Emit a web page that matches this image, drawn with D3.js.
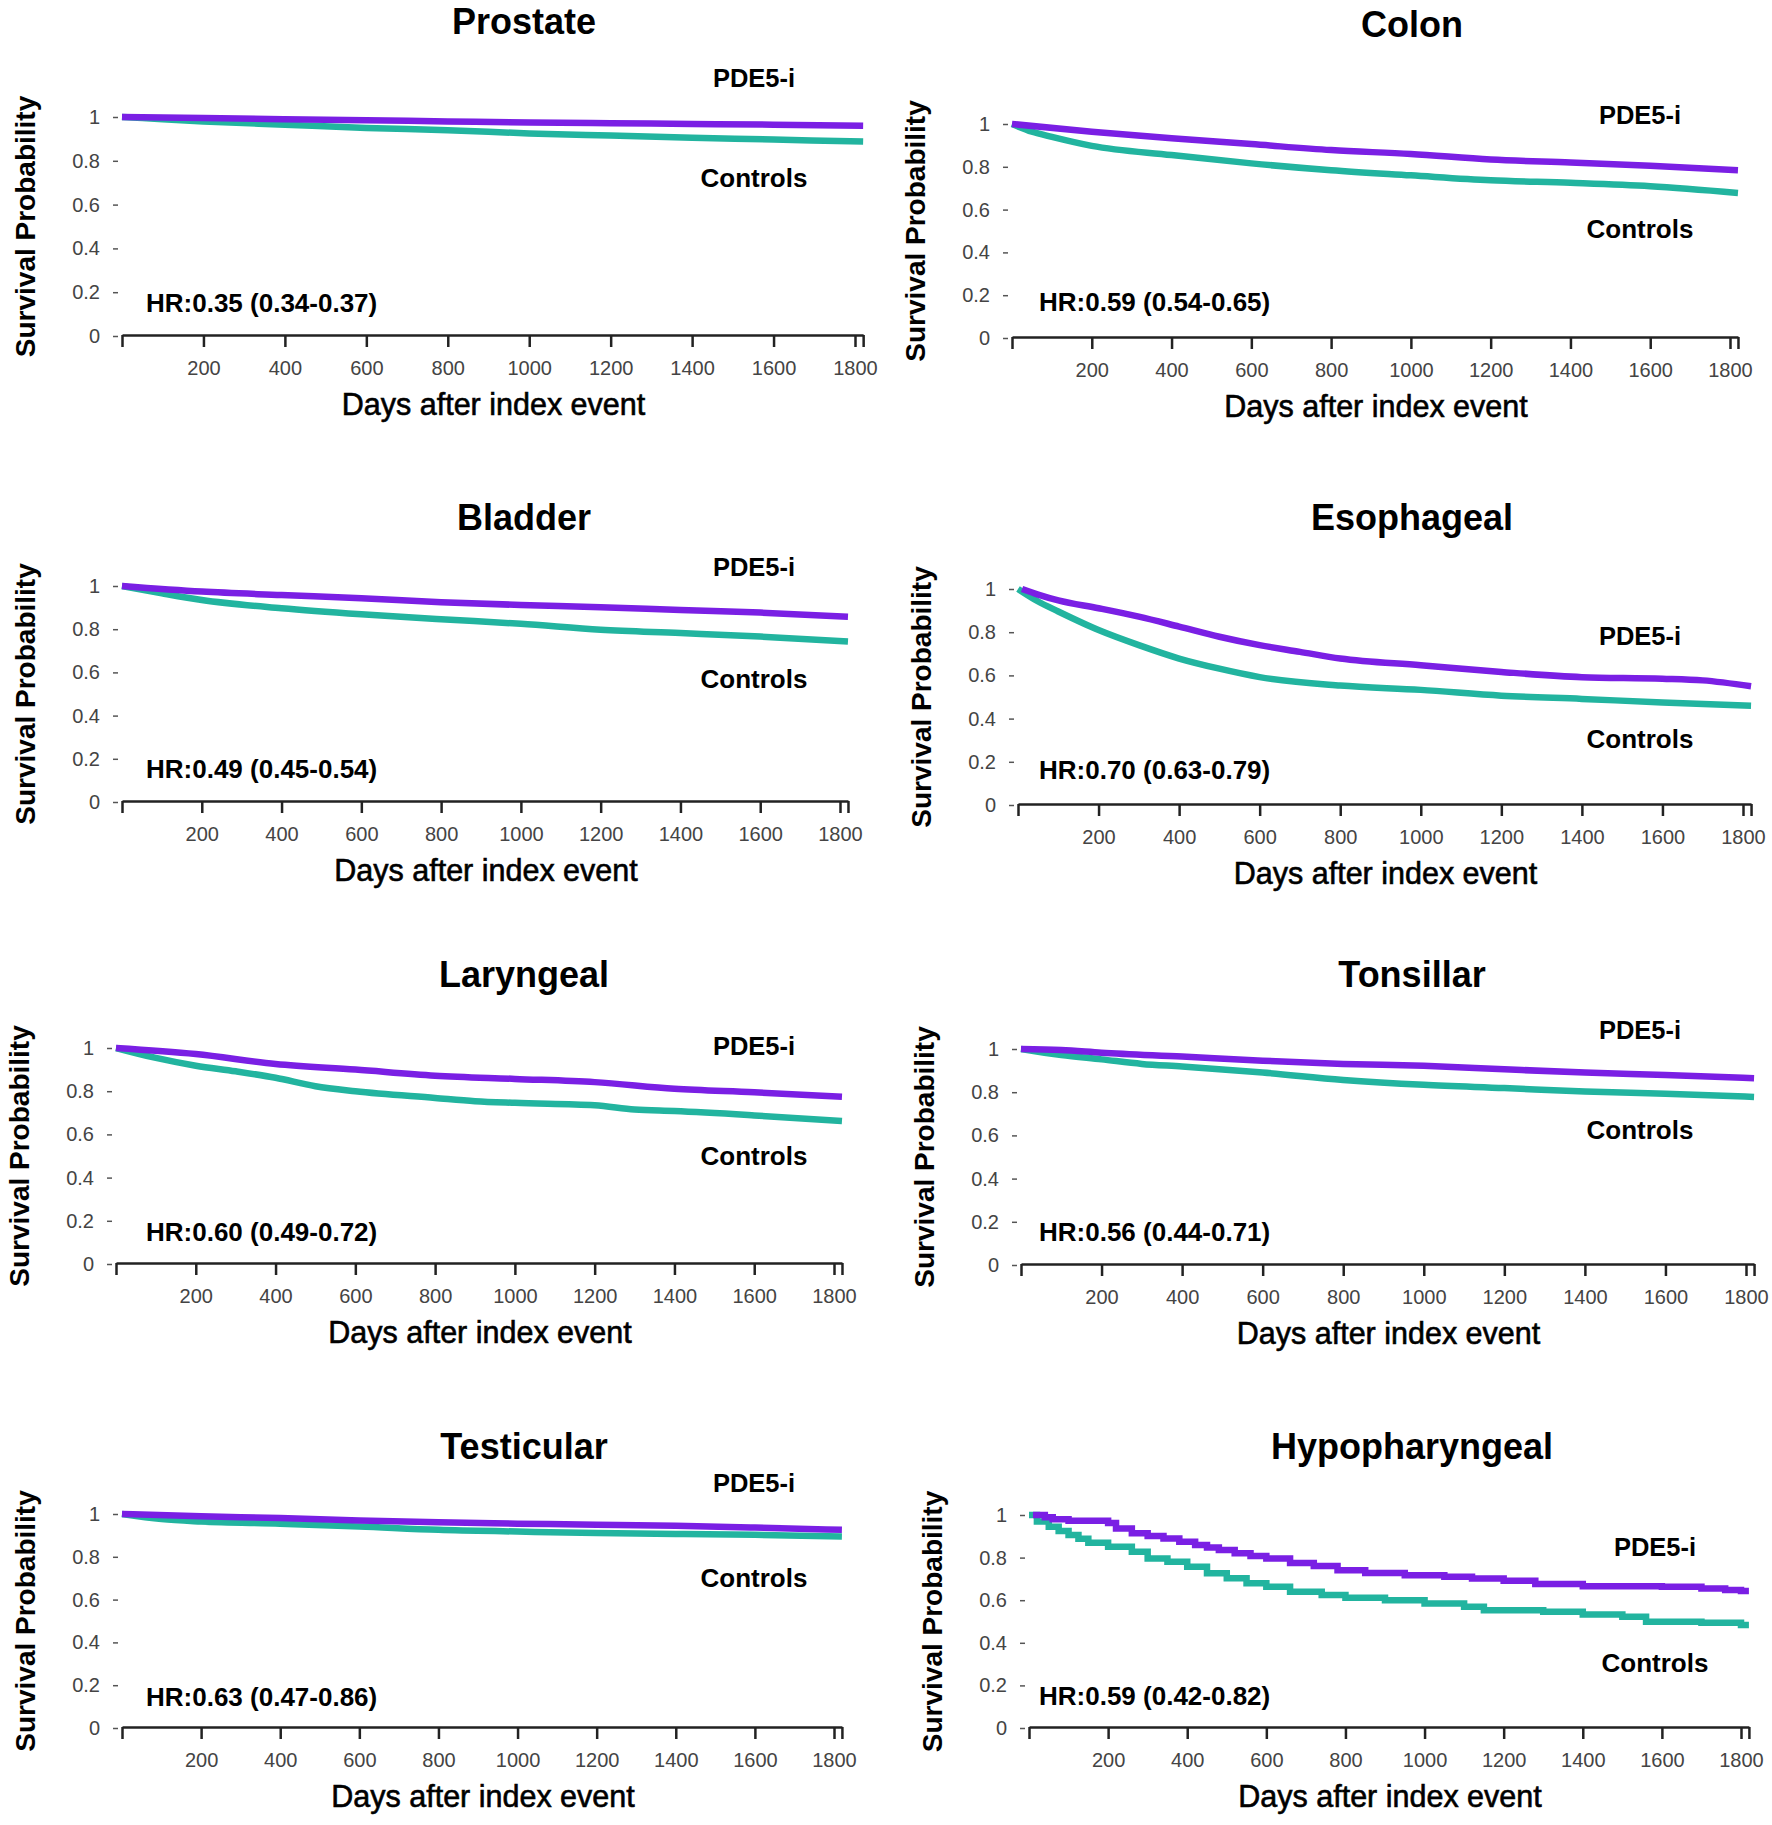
<!DOCTYPE html>
<html>
<head>
<meta charset="utf-8">
<script src="https://cdn.jsdelivr.net/npm/d3@7"></script>
<style>
  body { margin: 0; background: #fff; }
  svg { display: block; font-family: "Liberation Sans", Arial, Helvetica, sans-serif; }
</style>
</head>
<body>
<svg width="1772" height="1825"></svg>
<script>
// chart values
const cancers = ["Prostate", "Colon", "Bladder", "Esophageal", "Laryngeal", "Tonsillar", "Testicular", "Hypopharyngeal"];
const hazardRatios = ["HR:0.35 (0.34-0.37)", "HR:0.59 (0.54-0.65)", "HR:0.49 (0.45-0.54)", "HR:0.70 (0.63-0.79)",
                      "HR:0.60 (0.49-0.72)", "HR:0.56 (0.44-0.71)", "HR:0.63 (0.47-0.86)", "HR:0.59 (0.42-0.82)"];
const seriesNames = ["PDE5-i", "Controls"];
const xTicks = [200, 400, 600, 800, 1000, 1200, 1400, 1600, 1800];
const yTicks = [0, 0.2, 0.4, 0.6, 0.8, 1];

// [day, survival]
const pde5Prostate = [[0,1],[200,0.995],[400,0.99],[600,0.985],[800,0.98],[1000,0.975],[1200,0.972],[1400,0.968],[1600,0.965],[1820,0.96]];
const ctrlProstate = [[0,1],[100,0.99],[200,0.98],[400,0.965],[600,0.95],[800,0.94],[1000,0.925],[1200,0.915],[1400,0.905],[1600,0.897],[1820,0.888]];

const pde5Colon = [[0,1],[200,0.964],[400,0.933],[600,0.906],[800,0.878],[1000,0.86],[1200,0.834],[1400,0.82],[1600,0.805],[1820,0.784]];
const ctrlColon = [[0,1],[50,0.964],[100,0.94],[200,0.898],[400,0.855],[600,0.816],[800,0.784],[1000,0.76],[1200,0.737],[1400,0.725],[1600,0.709],[1820,0.678]];

const pde5Bladder = [[0,1],[200,0.974],[400,0.958],[600,0.943],[800,0.925],[1000,0.912],[1200,0.902],[1400,0.889],[1600,0.877],[1820,0.858]];
const ctrlBladder = [[0,1],[100,0.966],[200,0.935],[400,0.897],[600,0.869],[800,0.846],[1000,0.825],[1200,0.797],[1400,0.782],[1600,0.766],[1820,0.743]];

const pde5Esophageal = [[10,1],[50,0.974],[100,0.947],[200,0.911],[300,0.872],[400,0.826],[500,0.779],[600,0.74],[700,0.709],[800,0.678],[1000,0.647],[1200,0.616],[1400,0.592],[1600,0.585],[1700,0.577],[1820,0.55]];
const ctrlEsophageal = [[0,1],[50,0.942],[100,0.896],[200,0.81],[300,0.74],[400,0.678],[500,0.631],[600,0.592],[800,0.553],[1000,0.533],[1200,0.506],[1400,0.491],[1600,0.475],[1820,0.46]];

const pde5Laryngeal = [[0,1],[200,0.972],[400,0.926],[600,0.9],[800,0.872],[1000,0.857],[1200,0.842],[1400,0.811],[1600,0.795],[1820,0.774]];
const ctrlLaryngeal = [[0,1],[100,0.954],[200,0.918],[300,0.892],[400,0.862],[500,0.823],[600,0.8],[800,0.769],[900,0.754],[1000,0.746],[1200,0.735],[1300,0.715],[1400,0.708],[1600,0.688],[1820,0.662]];

const pde5Tonsillar = [[0,1],[100,0.995],[200,0.983],[400,0.965],[600,0.946],[800,0.931],[1000,0.922],[1200,0.906],[1400,0.891],[1600,0.88],[1820,0.865]];
const ctrlTonsillar = [[0,1],[100,0.972],[200,0.952],[300,0.931],[400,0.919],[600,0.891],[800,0.857],[1000,0.834],[1200,0.819],[1400,0.803],[1600,0.793],[1820,0.778]];

const pde5Testicular = [[0,1],[200,0.989],[400,0.981],[600,0.97],[800,0.961],[1000,0.955],[1200,0.95],[1400,0.945],[1600,0.937],[1820,0.926]];
const ctrlTesticular = [[0,1],[100,0.976],[200,0.965],[400,0.955],[600,0.942],[800,0.926],[1000,0.918],[1200,0.911],[1400,0.907],[1600,0.903],[1820,0.895]];

const pde5Hypopharyngeal = [[10,1],[40,0.99],[60,0.98],[100,0.973],[200,0.962],[220,0.937],[260,0.914],[300,0.901],[340,0.89],[380,0.875],[420,0.859],[450,0.848],[480,0.836],[520,0.82],[560,0.808],[600,0.796],[660,0.775],[720,0.76],[780,0.741],[850,0.728],[950,0.717],[1050,0.71],[1120,0.702],[1200,0.691],[1280,0.676],[1400,0.666],[1600,0.663],[1700,0.655],[1760,0.648],[1800,0.643],[1820,0.643]];
const ctrlHypopharyngeal = [[0,1],[20,0.969],[50,0.945],[75,0.925],[100,0.906],[125,0.888],[150,0.87],[200,0.851],[260,0.828],[300,0.796],[350,0.781],[400,0.757],[450,0.726],[500,0.703],[550,0.679],[600,0.663],[660,0.64],[740,0.624],[800,0.611],[900,0.6],[1000,0.585],[1100,0.569],[1150,0.553],[1300,0.546],[1400,0.533],[1500,0.522],[1560,0.499],[1700,0.494],[1800,0.483],[1820,0.483]];

const pde5Series = [pde5Prostate, pde5Colon, pde5Bladder, pde5Esophageal, pde5Laryngeal, pde5Tonsillar, pde5Testicular, pde5Hypopharyngeal];
const ctrlSeries = [ctrlProstate, ctrlColon, ctrlBladder, ctrlEsophageal, ctrlLaryngeal, ctrlTonsillar, ctrlTesticular, ctrlHypopharyngeal];
const stepped = [false, false, false, false, false, false, false, true];

// panel geometry in pixels (x of day 0 and day 1800, y of 1 and 0, text rows)
const layout = [
  {x0: 122,  x1: 855,  yTop: 117,  yBot: 336,  titleY: 34,   pdeY: 78,   ctlY: 178,  labX: 754,  hrY: 303},
  {x0: 1012, x1: 1730, yTop: 124,  yBot: 338,  titleY: 37,   pdeY: 115,  ctlY: 229,  labX: 1640, hrY: 302},
  {x0: 122,  x1: 840,  yTop: 586,  yBot: 802,  titleY: 530,  pdeY: 567,  ctlY: 679,  labX: 754,  hrY: 769},
  {x0: 1018, x1: 1743, yTop: 589,  yBot: 805,  titleY: 530,  pdeY: 636,  ctlY: 739,  labX: 1640, hrY: 770},
  {x0: 116,  x1: 834,  yTop: 1048, yBot: 1264, titleY: 987,  pdeY: 1046, ctlY: 1156, labX: 754,  hrY: 1232},
  {x0: 1021, x1: 1746, yTop: 1049, yBot: 1265, titleY: 987,  pdeY: 1030, ctlY: 1130, labX: 1640, hrY: 1232},
  {x0: 122,  x1: 834,  yTop: 1514, yBot: 1728, titleY: 1459, pdeY: 1483, ctlY: 1578, labX: 754,  hrY: 1697},
  {x0: 1029, x1: 1741, yTop: 1515, yBot: 1728, titleY: 1459, pdeY: 1547, ctlY: 1663, labX: 1655, hrY: 1696}
];
const colTitleX = [524, 1412];
const colHrX = [146, 1039];
const colors = {pde5: "#7a1fe4", ctrl: "#22b49f"};

const svg = d3.select("svg");

cancers.forEach(function(name, i) {
    const p = layout[i],
        col = i % 2;
    const endDay = 1820;

    const x = d3.scaleLinear()
        .domain([0, endDay])
        .range([p.x0, p.x0 + (p.x1 - p.x0) * endDay / 1800]);
    const y = d3.scaleLinear().domain([0, 1]).range([p.yBot, p.yTop]);

    const g = svg.append("g").attr("class", "panel");

    // x axis
    const xAxis = g.append("g")
        .attr("transform", "translate(0," + (p.yBot - 1) + ")")
        .call(d3.axisBottom(x)
            .tickValues([0].concat(xTicks, [endDay]))
            .tickSize(12)
            .tickSizeOuter(0)
            .tickFormat(function(d) { return xTicks.indexOf(d) >= 0 ? d : ""; }));
    xAxis.select(".domain").attr("stroke", "#222").attr("stroke-width", 2.5);
    xAxis.selectAll(".tick line").attr("stroke", "#222").attr("stroke-width", 2.5);
    xAxis.selectAll(".tick text")
        .attr("y", 40).attr("dy", 0)
        .attr("fill", "#444")
        .style("font-size", "20px");

    // y axis, ticks only
    const yAxis = g.append("g")
        .attr("transform", "translate(" + (p.x0 - 4) + ",0)")
        .call(d3.axisLeft(y)
            .tickValues(yTicks)
            .tickSize(5)
            .tickPadding(13)
            .tickFormat(function(d) { return String(d); }));
    yAxis.select(".domain").remove();
    yAxis.selectAll(".tick line").attr("stroke", "#555").attr("stroke-width", 1.5);
    yAxis.selectAll(".tick text")
        .attr("fill", "#444")
        .style("font-size", "20px");

    // curves
    const line = d3.line()
        .curve(stepped[i] ? d3.curveStepAfter : d3.curveMonotoneX)
        .x(function(d) { return x(d[0]); })
        .y(function(d) { return y(d[1]); });

    g.append("path")
        .datum(ctrlSeries[i])
        .attr("fill", "none")
        .attr("stroke", colors.ctrl)
        .attr("stroke-width", 6.5)
        .attr("d", line);

    g.append("path")
        .datum(pde5Series[i])
        .attr("fill", "none")
        .attr("stroke", colors.pde5)
        .attr("stroke-width", 6.5)
        .attr("d", line);

    // texts
    g.append("text")
        .attr("x", colTitleX[col])
        .attr("y", p.titleY)
        .attr("text-anchor", "middle")
        .style("font-size", "36px")
        .style("font-weight", "bold")
        .text(name);

    g.append("text")
        .attr("x", p.labX).attr("y", p.pdeY).attr("dy", "0.36em")
        .attr("text-anchor", "middle")
        .style("font-size", "25.5px").style("font-weight", "bold")
        .text(seriesNames[0]);

    g.append("text")
        .attr("x", p.labX).attr("y", p.ctlY).attr("dy", "0.36em")
        .attr("text-anchor", "middle")
        .style("font-size", "26px").style("font-weight", "bold")
        .text(seriesNames[1]);

    g.append("text")
        .attr("x", colHrX[col]).attr("y", p.hrY).attr("dy", "0.36em")
        .style("font-size", "26px").style("font-weight", "bold")
        .text(hazardRatios[i]);

    g.append("text")
        .attr("x", (x(0) + x(1800)) / 2 + 5)
        .attr("y", p.yBot + 79)
        .attr("text-anchor", "middle")
        .attr("stroke", "#000")
        .attr("stroke-width", 0.6)
        .style("font-size", "30.5px")
        .text("Days after index event");

    g.append("text")
        .attr("transform", "translate(" + (p.x0 - 97) + "," + ((p.yTop + p.yBot) / 2) + ") rotate(-90)")
        .attr("dy", "0.35em")
        .attr("text-anchor", "middle")
        .style("font-size", "28px")
        .style("font-weight", "bold")
        .text("Survival Probability");
});
</script>
</body>
</html>
